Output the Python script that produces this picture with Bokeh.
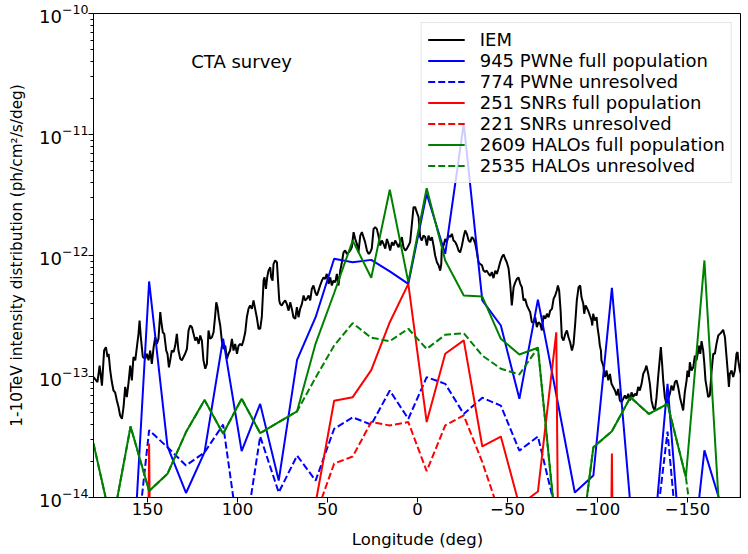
from bokeh.plotting import figure
from bokeh.models import Range1d, FixedTicker, Label, LogTicker
from bokeh.embed import file_html
from bokeh.resources import INLINE

Z = 1e-30  # empty bin (clipped below the axis, like matplotlib)

# ---- binned populations (36 longitude points) ----
pop_lon = [180, 169.7, 159.4, 149.1, 138.9, 128.6, 118.3, 108.0, 97.7, 87.4, 77.1, 66.9,
           56.6, 46.3, 36.0, 25.7, 15.4, 5.1, -5.1, -15.4, -25.7, -36.0, -46.3, -56.6,
           -66.9, -77.1, -87.4, -97.7, -108.0, -118.3, -128.6, -138.9, -149.1, -159.4, -169.7, -180]

pwn_full = [1e-15, 1e-15, 1.2e-15, 6.1e-13, 2.65e-14, 1.09e-14, 2.37e-14, 2.05e-13, 2.42e-14, 5.94e-14,
            1.38e-14, 1.37e-13, 3.09e-13, 9.4e-13, 8.8e-13, 9.2e-13, 7.4e-13, 5.83e-13, 3.24e-12, 1.03e-12,
            1.23e-11, 4.25e-13, 2.64e-13, 6.54e-14, 4.32e-13, 7.1e-14, 1.1e-14, 1.52e-14, 5.4e-13, 8.6e-15,
            1.6e-15, 8.7e-14, 1e-15, 2.45e-14, 7.7e-15, 5e-15]
pwn_unres = [1e-15, 1e-15, 1.4e-15, 3.6e-14, 2.6e-14, 1.84e-14, 2.36e-14, 4.0e-14, 3.2e-15, 3.2e-14,
             1.1e-14, 2.22e-14, 1.38e-14, 3.7e-14, 4.6e-14, 4.0e-14, 7.65e-14, 4.47e-14, 9.87e-14, 8.7e-14,
             4.9e-14, 6.67e-14, 5.75e-14, 2.44e-14, 3.19e-14, 7.5e-15, 3e-15, 3e-15, 3e-15, 3e-15,
             1.8e-15, 3.5e-14, 7.6e-16, 1e-15, 1e-15, 1e-15]
snr_full = [Z, Z, Z, 2.8e-14, Z, Z, Z, Z, Z, Z,
            Z, Z, 9e-15, 6.3e-14, 6.75e-14, 1.13e-13, 2.81e-13, 5.83e-13, 4.2e-14, 1.54e-13,
            1.99e-13, 2.64e-14, 3.19e-14, 8.6e-15, 1.12e-14, 2.32e-13, Z, Z, 2.31e-14, Z,
            Z, Z, Z, Z, Z, Z]
snr_unres = [Z, Z, Z, Z, Z, Z, Z, Z, Z, Z,
             Z, Z, 7.1e-15, 1.91e-14, 2.18e-14, 4.2e-14, 3.94e-14, 4.2e-14, 1.65e-14, 3.94e-14,
             4.77e-14, 1.96e-14, 6.9e-15, 3e-15, Z, Z, Z, Z, Z, Z,
             Z, Z, Z, Z, Z, Z]
halo_full = [2.79e-14, 5.8e-15, 3.86e-14, 1.13e-14, 1.57e-14, 3.47e-14, 6.4e-14, 3.36e-14, 6.55e-14, 3.4e-14,
             4.2e-14, 5.16e-14, 1.87e-13, 4.9e-13, 1.33e-12, 6.55e-13, 3.49e-12, 6.03e-13, 3.6e-12, 9.1e-13,
             4.67e-13, 4.58e-13, 2.05e-13, 1.52e-13, 1.73e-13, 5.2e-15, 1.7e-15, 2.6e-14, 3.53e-14, 6.75e-14,
             4.9e-14, 5.94e-14, 1.47e-14, 9.1e-13, 2.3e-15, 1e-15]
halo_unres = [2.79e-14, 5.8e-15, 3.86e-14, 1.13e-14, 1.57e-14, 3.47e-14, 6.4e-14, 3.36e-14, 6.55e-14, 3.4e-14,
              4.2e-14, 5.16e-14, 9.8e-14, 1.8e-13, 2.76e-13, 2.09e-13, 1.96e-13, 2.48e-13, 1.69e-13, 2.21e-13,
              2.28e-13, 1.49e-13, 1.16e-13, 1.04e-13, 1.73e-13, 5.2e-15, 1.7e-15, 2.6e-14, 3.53e-14, 6.75e-14,
              4.9e-14, 5.94e-14, 1.47e-14, 1e-15, 1e-15, 1e-15]

# ---- interstellar emission model (fine longitude sampling) ----
iem_lon = [180, 179.1, 177.8, 176.6, 175.3, 174.1, 173.1, 172.2, 171.6, 170.7, 169.8, 168.9, 168.0, 167.0,
           166.1, 165.2, 164.2, 163.3, 162.4, 161.5, 160.5, 159.6, 158.7, 157.8, 156.8, 155.9, 155.0, 154.4,
           153.7, 152.6, 151.3, 150.4, 149.4, 148.5, 147.6, 146.6, 145.7, 144.8, 143.9, 142.9, 142.4, 141.5,
           140.7, 139.6, 138.9, 138.1, 137.4, 136.5, 135.5, 134.6, 133.7, 132.8, 131.8, 130.9, 130.0, 129.1,
           128.1, 127.2, 126.3, 125.3, 124.4, 123.5, 122.6, 121.6, 120.7, 119.8, 118.9, 117.9, 117.0, 116.1,
           115.2, 114.2, 113.3, 112.4, 111.8, 111.1, 110.4, 109.6, 108.7, 107.8, 106.8, 105.9, 105.0, 104.1,
           103.1, 102.2, 101.3, 100.3, 99.4, 98.5, 97.6, 96.7, 95.7, 94.8, 93.9, 93.0, 92.0, 91.1, 90.2, 89.3,
           88.3, 87.4,
           86.5, 85.5, 85.0, 84.2, 83.5, 82.8, 81.8, 81.3, 80.5, 80.0, 79.1, 78.1, 77.6, 76.8, 76.3, 75.4,
           74.4, 73.5, 72.6, 71.6, 70.7, 69.8, 68.9, 67.9, 67.0, 66.1, 65.2, 64.2, 63.3, 62.4, 61.5, 60.5,
           59.6, 58.7, 57.8, 56.8, 55.9, 55.0, 54.1, 53.1, 52.2, 51.3, 50.4, 49.4, 48.5, 47.6, 46.7, 45.7,
           44.8, 43.9, 42.9, 42.0, 41.1, 40.2, 39.2, 38.3, 37.4, 36.5, 35.5, 34.6, 33.7, 32.8, 31.8, 30.9,
           30.0, 29.1, 28.1, 27.2, 26.3, 25.4, 24.4, 23.5, 22.6, 21.7, 20.7, 19.8, 18.9, 17.9, 17.0, 16.1,
           15.2, 14.2, 13.3, 12.4, 11.5, 10.5, 9.6, 8.7, 7.8, 6.8, 5.9, 5.0, 4.1, 3.1, 2.2, 1.3, 0.4, -0.6,
           -1.5, -2.4, -3.3, -4.3,
           -5.2, -6.1, -7.1, -8.0, -8.9, -9.8, -10.8, -11.7, -12.6, -13.2, -13.5, -14.5, -15.4, -16.3,
           -17.2, -18.2, -19.1, -20.0, -21.0, -21.9, -22.8, -23.7, -24.7, -25.6, -26.5, -27.4, -28.4, -29.3,
           -30.2, -31.1, -32.1, -33.0, -33.9, -34.8, -35.8, -36.7, -37.6, -38.5, -39.5, -40.4, -41.3, -42.2,
           -43.2, -44.1, -45.0, -45.9, -46.9, -47.8, -48.7, -49.6, -50.6, -51.5, -52.4, -53.4, -54.3, -55.2,
           -56.1, -57.1, -58.0, -58.9, -59.8, -60.8, -61.7, -62.6, -63.5, -64.5, -65.4, -66.3, -67.2, -68.2,
           -69.1, -70.0, -71.0, -71.9, -72.8, -73.7, -74.7, -75.6, -76.5, -77.4, -78.0, -78.7, -79.5, -80.2,
           -81.1, -82.1, -83.0, -83.9, -84.8, -85.8, -86.7, -87.6, -88.5, -89.5, -90.4,
           -91.1, -92.1, -92.6, -93.4, -93.9, -94.8, -95.8, -96.7, -97.1, -97.6, -98.5, -99.5, -100.0,
           -100.8, -101.3, -101.9, -102.2, -103.2, -104.1, -105.0, -106.0, -106.9, -107.8, -108.7, -109.7,
           -110.6, -111.5, -112.4, -113.4, -114.3, -115.2, -116.1, -117.1, -118.0, -118.9, -119.8, -120.8,
           -121.7, -122.6, -123.5, -124.5, -125.4, -126.3, -127.2, -128.2, -129.1, -130.0, -130.9, -131.9,
           -132.8, -133.7, -134.7, -135.2, -135.9, -136.5, -137.4, -138.3, -139.3, -140.2, -141.1, -142.1,
           -143.0, -143.9, -144.8, -145.8, -146.7, -147.6, -148.5, -149.5, -150.0, -150.8, -151.3, -152.2,
           -153.2, -154.1, -155.0, -156.0, -156.5, -157.1, -157.8, -158.7, -159.3, -160.0, -160.6, -161.5,
           -162.4, -163.4, -164.3, -165.2, -166.1, -167.1, -168.0, -168.9, -169.8, -170.8, -171.7, -172.6,
           -173.0, -173.5, -174.5, -175.4, -176.3, -177.2, -177.8, -178.2, -179.1, -179.6, -180]
iem_val = [9.9e-14, 9.5e-14, 9.0e-14, 1.23e-13, 8.4e-14, 1.64e-13, 1.75e-13, 1.45e-13, 1.54e-13, 1.12e-13,
           9.0e-14, 7.66e-14, 7.4e-14, 6.3e-14, 5.6e-14, 4.75e-14, 4.47e-14, 5.6e-14, 8.2e-14, 6.75e-14,
           9.0e-14, 1.23e-13, 9.3e-14, 1.45e-13, 1.36e-13, 1.75e-13, 2.25e-13, 2.9e-13, 2.11e-13, 1.45e-13,
           1.4e-13, 1.54e-13, 1.36e-13, 1.64e-13, 1.27e-13, 1.75e-13, 2.11e-13, 1.86e-13, 2.05e-13, 3.4e-13,
           2.9e-13, 2.32e-13, 2.25e-13, 1.64e-13, 1.54e-13, 1.19e-13, 1.36e-13, 1.64e-13, 1.59e-13, 1.8e-13,
           2.25e-13, 1.64e-13, 1.4e-13, 1.36e-13, 1.45e-13, 1.54e-13, 1.69e-13, 2.4e-13, 2.64e-13, 2.55e-13,
           2.25e-13, 1.98e-13, 2.11e-13, 1.86e-13, 2.18e-13, 1.98e-13, 1.36e-13, 1.16e-13, 1.27e-13, 2.4e-13,
           2.05e-13, 2.11e-13, 2.32e-13, 3.19e-13, 4.1e-13, 3.74e-13, 3.09e-13, 2.64e-13, 1.98e-13, 1.69e-13,
           1.8e-13, 1.4e-13, 1.54e-13, 1.64e-13, 2.05e-13, 1.64e-13, 1.86e-13, 1.54e-13, 1.8e-13, 1.86e-13,
           1.8e-13, 1.98e-13, 2.32e-13, 3.09e-13, 3.62e-13, 3.86e-13, 3.62e-13, 4.25e-13, 3.62e-13, 3.09e-13,
           2.48e-13, 2.48e-13,
           3.09e-13, 6.2e-13, 6.6e-13, 5.3e-13, 6.6e-13, 7.5e-13, 8.0e-13, 6.6e-13, 6.2e-13, 8.5e-13,
           9.1e-13, 8.8e-13, 6.6e-13, 4.25e-13, 3.98e-13, 3.86e-13, 4.1e-13, 4.25e-13, 3.98e-13, 3.5e-13,
           4.1e-13, 3.62e-13, 3.09e-13, 3.0e-13, 3.74e-13, 3.09e-13, 3.62e-13, 3.98e-13, 4.67e-13, 4.25e-13,
           4.38e-13, 4.67e-13, 4.25e-13, 5.3e-13, 5.65e-13, 4.97e-13, 4.67e-13, 5.13e-13, 5.65e-13, 6.2e-13,
           6.6e-13, 6.4e-13, 7.05e-13, 5.82e-13, 6.6e-13, 5.65e-13, 6.2e-13, 6.0e-13, 7.05e-13, 5.65e-13,
           7.5e-13, 8.8e-13, 1.06e-12, 1.1e-12, 1.03e-12, 1.06e-12, 1.1e-12, 1.17e-12, 1.56e-12, 1.37e-12,
           1.25e-12, 1.06e-12, 1.46e-12, 1.56e-12, 1.42e-12, 1.29e-12, 1.1e-12, 1.03e-12, 1.06e-12, 1.14e-12,
           1.66e-12, 1.71e-12, 1.66e-12, 1.46e-12, 1.21e-12, 1.33e-12, 1.25e-12, 1.14e-12, 1.37e-12, 1.25e-12,
           1.1e-12, 1.29e-12, 1.21e-12, 1.33e-12, 1.25e-12, 1.17e-12, 1.29e-12, 1.42e-12, 1.17e-12, 1.1e-12,
           1.14e-12, 1.21e-12, 1.29e-12, 1.83e-12, 2.51e-12, 2.51e-12, 2.28e-12, 2.07e-12, 1.42e-12, 1.33e-12,
           1.46e-12, 1.42e-12,
           1.21e-12, 1.46e-12, 1.33e-12, 1.42e-12, 1.21e-12, 1.0e-12, 8.8e-13, 8.3e-13, 7.5e-13, 8.5e-13,
           1.14e-12, 1.21e-12, 1.37e-12, 1.29e-12, 1.46e-12, 1.42e-12, 1.51e-12, 1.33e-12, 1.29e-12, 1.21e-12,
           1.1e-12, 1.06e-12, 1.21e-12, 1.42e-12, 1.61e-12, 1.51e-12, 1.33e-12, 1.29e-12, 1.42e-12, 1.37e-12,
           1.25e-12, 1.06e-12, 8.8e-13, 8.5e-13, 8.3e-13, 7.5e-13, 7.3e-13, 7.5e-13, 7.05e-13, 6.8e-13,
           7.3e-13, 6.5e-13, 7.5e-13, 7.05e-13, 7.8e-13, 8.8e-13, 9.7e-13, 1.02e-12, 9.4e-13, 8.8e-13,
           7.8e-13, 5.83e-13, 3.86e-13, 5.47e-13, 6.0e-13, 6.4e-13, 6.6e-13, 5.83e-13, 5.47e-13, 4.25e-13,
           4.38e-13, 3.86e-13, 3.62e-13, 3.4e-13, 2.81e-13, 2.81e-13, 3.09e-13, 2.56e-13, 2.81e-13, 2.72e-13,
           2.4e-13, 3.19e-13, 3.0e-13, 3.3e-13, 3.09e-13, 3.5e-13, 3.62e-13, 4.38e-13, 4.67e-13, 5.14e-13,
           5.65e-13, 5.14e-13, 3.5e-13, 2.11e-13, 1.98e-13, 2.25e-13, 2.4e-13, 2.11e-13, 1.92e-13, 1.64e-13,
           1.86e-13, 2.72e-13, 4.25e-13, 5.47e-13, 5.65e-13,
           4.53e-13, 4.0e-13, 3.3e-13, 3.86e-13, 3.74e-13, 3.5e-13, 3.19e-13, 2.9e-13, 2.64e-13, 3.3e-13,
           2.9e-13, 3.09e-13, 2.56e-13, 2.11e-13, 1.8e-13, 1.64e-13, 1.36e-13, 1.23e-13, 9.9e-14, 1.12e-13,
           9.3e-14, 1.05e-13, 8.7e-14, 8.2e-14, 7.66e-14, 6.97e-14, 7.9e-14, 6.34e-14, 6.14e-14, 6.53e-14,
           6.97e-14, 6.53e-14, 7.2e-14, 6.34e-14, 7.4e-14, 6.75e-14, 7.2e-14, 6.97e-14, 8.2e-14, 7.66e-14,
           8.7e-14, 1.05e-13, 1.12e-13, 1.23e-13, 1.05e-13, 8.7e-14, 6.34e-14, 5.58e-14, 5.24e-14, 6.75e-14,
           9.9e-14, 1.45e-13, 1.75e-13, 1.27e-13, 9.3e-14, 6.75e-14, 5.94e-14, 6.53e-14, 7.2e-14, 8.43e-14,
           7.66e-14, 8.97e-14, 9.3e-14, 8.2e-14, 6.75e-14, 5.94e-14, 5.24e-14, 7.4e-14, 9.3e-14, 1.12e-13,
           9.9e-14, 1.31e-13, 1.12e-13, 1.19e-13, 1.49e-13, 1.36e-13, 1.64e-13, 1.8e-13, 1.54e-13, 1.96e-13,
           1.64e-13, 1.31e-13, 9.3e-14, 8.2e-14, 6.75e-14, 6.97e-14, 1.12e-13, 1.54e-13, 1.54e-13, 1.86e-13,
           2.18e-13, 2.25e-13, 2.32e-13, 2.43e-13, 2.11e-13, 1.45e-13, 9.9e-14, 8.2e-14, 1.05e-13, 1.12e-13,
           9.9e-14, 1.12e-13, 1.54e-13, 1.59e-13, 1.36e-13, 1.12e-13, 1.05e-13, Z]

x_ticks = [150, 100, 50, 0, -50, -100, -150]
x_tick_labels = ["150", "100", "50", "0", "\u221250", "\u2212100", "\u2212150"]

series = [
    ("IEM", iem_lon, iem_val, "#000000", "solid"),
    ("945 PWNe full population", pop_lon, pwn_full, "#0000ff", "solid"),
    ("774 PWNe unresolved", pop_lon, pwn_unres, "#0000ff", "7 3"),
    ("251 SNRs full population", pop_lon, snr_full, "#ff0000", "solid"),
    ("221 SNRs unresolved", pop_lon, snr_unres, "#ff0000", "7 3"),
    ("2609 HALOs full population", pop_lon, halo_full, "#008000", "solid"),
    ("2535 HALOs unresolved", pop_lon, halo_unres, "#008000", "7 3"),
]

FONT = "DejaVu Sans"

p = figure(width=741, height=553, x_range=Range1d(180, -180), y_range=Range1d(1e-14, 1e-10),
           y_axis_type="log", output_backend="svg", toolbar_location=None,
           min_border_left=93, min_border_right=0, min_border_top=13, min_border_bottom=56)

for label, xs, ys, color, dash in series:
    p.line(xs, ys, line_color=color, line_width=2, line_dash=dash, legend_label=label)

p.grid.visible = False
p.outline_line_color = "black"
p.outline_line_alpha = 1
p.outline_line_width = 1

p.xaxis.ticker = FixedTicker(ticks=x_ticks)
p.xaxis.major_label_overrides = {t: s for t, s in zip(x_ticks, x_tick_labels)}
p.xaxis.minor_tick_line_color = None
p.yaxis.ticker = LogTicker(num_minor_ticks=10)

for ax in (p.xaxis[0], p.yaxis[0]):
    ax.axis_line_color = "black"
    ax.major_tick_line_color = "black"
    ax.major_tick_out = 5
    ax.major_tick_in = 0
    ax.minor_tick_out = 3
    ax.minor_tick_in = 0
    ax.major_label_text_font = FONT
    ax.major_label_text_color = "black"
    ax.axis_label_text_font = FONT
    ax.axis_label_text_font_style = "normal"
    ax.axis_label_text_color = "black"

p.xaxis.major_label_text_font_size = "16.5px"
p.yaxis.major_label_text_font_size = "18px"
p.xaxis.axis_label_text_font_size = "16.5px"
p.yaxis.axis_label_text_font_size = "15.3px"
p.xaxis.major_label_standoff = 0
p.yaxis.major_label_standoff = 0

p.xaxis.axis_label = "Longitude (deg)"
p.yaxis.axis_label = "1-10TeV intensity distribution (ph/cm\u00b2/s/deg)"
p.xaxis.axis_label_standoff = 12
p.yaxis.axis_label_standoff = 10

p.add_layout(Label(x=125.7, y=4.0e-11, text="CTA survey", text_font=FONT, text_font_size="18px",
                   text_baseline="middle", text_color="black"))

lg = p.legend[0]
lg.location = "top_right"
lg.margin = 9
lg.padding = 6
lg.spacing = 0
lg.label_height = 21
lg.glyph_height = 21
lg.glyph_width = 37
lg.label_standoff = 15
lg.label_text_font = FONT
lg.label_text_font_size = "18px"
lg.label_text_color = "black"
lg.border_line_color = "#cccccc"
lg.border_line_width = 1
lg.background_fill_alpha = 0.8

open("out.html", "w").write(file_html(p, INLINE))
